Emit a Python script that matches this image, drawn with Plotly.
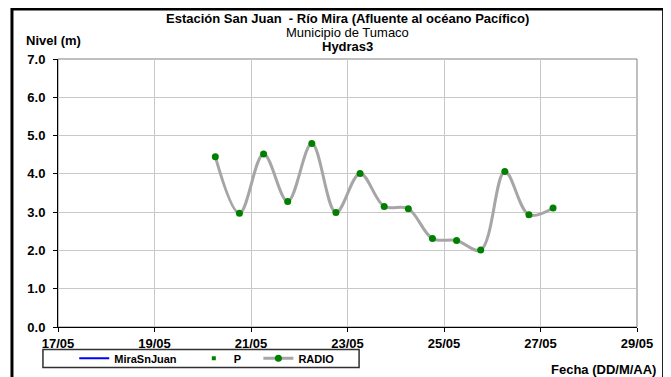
import plotly.graph_objects as go

# Lecturas del nivel (m) en la estación San Juan - Río Mira
fechas = [
    "2023-05-20 06:15", "2023-05-20 18:15",
    "2023-05-21 06:15", "2023-05-21 18:15",
    "2023-05-22 06:15", "2023-05-22 18:15",
    "2023-05-23 06:15", "2023-05-23 18:15",
    "2023-05-24 06:15", "2023-05-24 18:15",
    "2023-05-25 06:15", "2023-05-25 18:15",
    "2023-05-26 06:15", "2023-05-26 18:15",
    "2023-05-27 06:15",
]
nivel_radio = [4.45, 2.97, 4.52, 3.28, 4.79, 2.99, 4.01, 3.15,
               3.09, 2.31, 2.26, 2.01, 4.06, 2.93, 3.11]

tick_vals = ["2023-05-17", "2023-05-19", "2023-05-21", "2023-05-23",
             "2023-05-25", "2023-05-27", "2023-05-29"]
tick_text = ["17/05", "19/05", "21/05", "23/05", "25/05", "27/05", "29/05"]

fuente = "Liberation Sans, Arial, sans-serif"

fig = go.Figure()

# series sin datos en el periodo (solo aparecen en la leyenda)
fig.add_trace(go.Scatter(x=[None], y=[None], name="<b>MiraSnJuan</b>" + "&nbsp;" * 4,
                         mode="lines", line=dict(color="#0000ff", width=2)))
fig.add_trace(go.Scatter(x=[None], y=[None], name="<b>P</b>" + "&nbsp;" * 4, mode="markers",
                         marker=dict(color="#008000", size=4, symbol="square")))
fig.add_trace(go.Scatter(
    x=fechas, y=nivel_radio, name="<b>RADIO</b>", mode="lines+markers",
    line=dict(color="#a6a6a6", width=3, shape="spline", smoothing=1.0),
    marker=dict(color="#008000", size=7),
))

# la página añade 8 px de margen, así que la figura es 8 px más pequeña
fig.update_layout(
    width=663, height=369,
    margin=dict(l=50, r=34, t=51, b=50, autoexpand=False),
    paper_bgcolor="white", plot_bgcolor="white",
    font=dict(family=fuente, size=13, color="black"),
    showlegend=True,
    legend=dict(
        orientation="h", x=0.028, y=-0.117, xanchor="left", yanchor="middle",
        borderwidth=0, bgcolor="rgba(0,0,0,0)",
        itemwidth=30, font=dict(size=11), tracegroupgap=0,
    ),
)

fig.update_xaxes(
    type="date", range=["2023-05-17", "2023-05-29"],
    tickvals=tick_vals, ticktext=tick_text, automargin=False,
    tickfont=dict(family=fuente, size=13, color="black", weight="bold"),
    showgrid=True, gridcolor="#c8c8c8", gridwidth=1,
    showline=True, linecolor="black", linewidth=1,
    ticks="outside", ticklen=4, tickcolor="black", zeroline=False,
)
fig.update_yaxes(
    range=[0, 7], dtick=1, tickformat=".1f", automargin=False,
    tickfont=dict(family=fuente, size=13, color="black", weight="bold"),
    ticklabelstandoff=5,
    showgrid=True, gridcolor="#c8c8c8", gridwidth=1,
    showline=True, linecolor="black", linewidth=1,
    ticks="outside", ticklen=4, tickcolor="black", zeroline=False,
)

# marco gris del área de trazado, marco de la leyenda y marco exterior negro
fig.add_shape(type="rect", xref="paper", yref="paper", x0=0, x1=1, y0=0, y1=1,
              line=dict(color="#808080", width=1), layer="below")
fig.add_shape(type="rect", xref="paper", yref="paper",
              x0=-0.026, x1=0.520, y0=-0.151, y1=-0.0838,
              line=dict(color="#303030", width=1.5))
fig.add_shape(type="rect", xref="paper", yref="paper",
              x0=-0.0795, x1=1.046, y0=-0.25, y1=1.187,
              line=dict(color="black", width=3))

# títulos
fig.add_annotation(text="<b>Estación San Juan  - Río Mira (Afluente al océano Pacífico)</b>",
                   xref="paper", yref="paper", x=0.5, y=1.152, yanchor="middle",
                   showarrow=False)
fig.add_annotation(text="Municipio de Tumaco", xref="paper", yref="paper",
                   x=0.5, y=1.0985, yanchor="middle", showarrow=False)
fig.add_annotation(text="<b>Hydras3</b>", xref="paper", yref="paper",
                   x=0.5, y=1.0484, yanchor="middle", showarrow=False)
fig.add_annotation(text="<b>Nivel (m)</b>", xref="paper", yref="paper",
                   x=-0.0588, y=1.0708, xanchor="left", yanchor="middle",
                   showarrow=False)
fig.add_annotation(text="<b>Fecha (DD/M/AA)</b>", xref="paper", yref="paper",
                   x=1.0356, y=-0.1583, xanchor="right", yanchor="middle",
                   showarrow=False)

fig.write_html("out.html")
